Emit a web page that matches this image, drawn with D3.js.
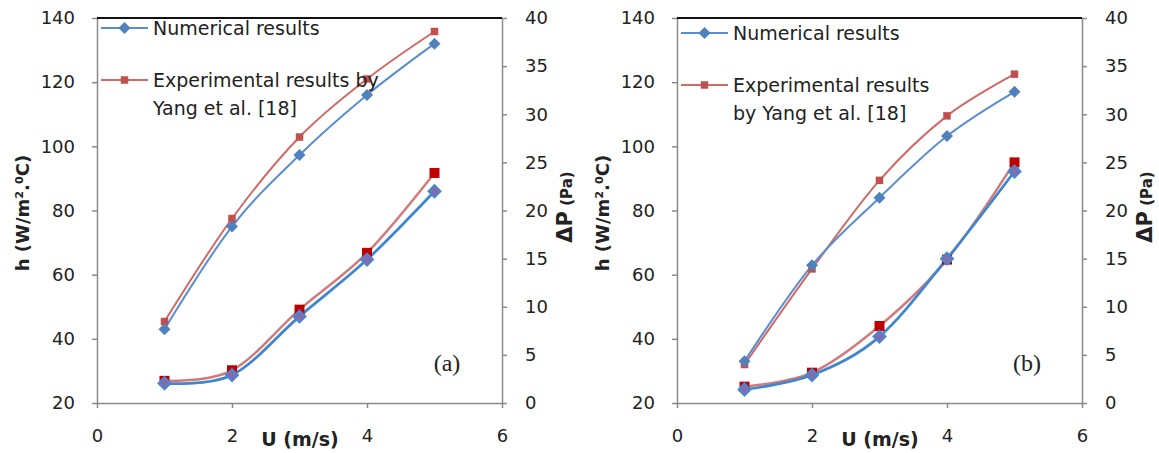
<!DOCTYPE html>
<html><head><meta charset="utf-8">
<script src="https://cdn.jsdelivr.net/npm/d3@7"></script>
<style>body{margin:0;background:#fff} svg{display:block}</style>
</head><body><svg id="c" width="1159" height="453"></svg>
<script>
// ---- data ----
const uValues = [1, 2, 3, 4, 5];
const xTicks = [0, 2, 4, 6];
const hTicks = [20, 40, 60, 80, 100, 120, 140];
const dpTicks = [0, 5, 10, 15, 20, 25, 30, 35, 40];

const hNumA  = [43, 75, 97.3, 116, 132];
const hExpA  = [45.4, 77.5, 102.9, 121, 135.8];
const dpNumA = [2.05, 2.9, 9.0, 14.9, 22.0];
const dpExpA = [2.3, 3.4, 9.7, 15.6, 23.9];

const hNumB  = [33, 62.9, 84, 103.2, 117];
const hExpB  = [32, 61.8, 89.4, 109.5, 122.5];
const dpNumB = [1.4, 2.9, 6.9, 15.0, 24.05];
const dpExpB = [1.7, 3.15, 8.0, 14.9, 25.0];

const panelLabels = ["(a)", "(b)"];
const legendNum = ["Numerical results"];
const legendExpA = ["Experimental results by", "Yang et al. [18]"];
const legendExpB = ["Experimental results", "by Yang et al. [18]"];
const xTitle = "U (m/s)";
const yTitle = "h (W/m\u00B2.\u2070C)";

// ---- drawing ----
const svg = d3.select("#c");
svg.append("rect").attr("width", 1159).attr("height", 453).attr("fill", "#fff");

const panels = [
  {off: 0, hNum: hNumA, hExp: hExpA, dpNum: dpNumA, dpExp: dpExpA, label: panelLabels[0], exp: legendExpA, legY: 28},
  {off: 580, hNum: hNumB, hExp: hExpB, dpNum: dpNumB, dpExp: dpExpB, label: panelLabels[1], exp: legendExpB, legY: 33}
];

const F = "DejaVu Sans, sans-serif";
const axisCol = "#8a8a8a";
const txtCol = "#222";
const blue = "#4F81BD", red = "#C0504D";

function diamond(r) { return `M0,${-r}L${r},0L0,${r}L${-r},0Z`; }
function square(s) { return `M${-s/2},${-s/2}h${s}v${s}h${-s}Z`; }

panels.forEach(p => {
  const g = svg.append("g").attr("transform", `translate(${p.off},0)`);
  const x = d3.scaleLinear().domain([0, 6]).range([97, 502]);
  const yH = d3.scaleLinear().domain([20, 140]).range([403, 18]);
  const yP = d3.scaleLinear().domain([0, 40]).range([403, 18]);

  const styleAxis = sel => {
    sel.selectAll("path.domain").attr("stroke", axisCol).attr("stroke-width", 1.5);
    sel.selectAll(".tick line").attr("stroke", axisCol).attr("stroke-width", 1.5);
    sel.selectAll(".tick text").attr("fill", txtCol).style("font-family", F).style("font-size", "18px");
  };

  g.append("g").attr("transform", "translate(0,403)")
    .call(d3.axisBottom(x).tickValues(xTicks).tickSize(5).tickSizeOuter(0).tickPadding(21).tickFormat(d3.format("d")))
    .call(styleAxis);
  g.append("g").attr("transform", "translate(97,0)")
    .call(d3.axisLeft(yH).tickValues(hTicks).tickSize(5).tickSizeOuter(0).tickPadding(17).tickFormat(d3.format("d")))
    .call(styleAxis);
  g.append("g").attr("transform", "translate(502,0)")
    .call(d3.axisRight(yP).tickValues(dpTicks).tickSize(5).tickSizeOuter(0).tickPadding(18).tickFormat(d3.format("d")))
    .call(styleAxis);

  // top border
  g.append("line").attr("x1", 97).attr("x2", 502).attr("y1", 18).attr("y2", 18)
    .attr("stroke", "#111").attr("stroke-width", 2);

  const curve = d3.curveCardinal.tension(0);
  const line = (ys, yv) => d3.line().curve(curve).x((d, i) => x(uValues[i])).y(d => ys(d))(yv);

  // h experimental
  g.append("path").attr("d", line(yH, p.hExp)).attr("fill", "none").attr("stroke", "#D06A67").attr("stroke-width", 2);
  // h numerical
  g.append("path").attr("d", line(yH, p.hNum)).attr("fill", "none").attr("stroke", "#5A8DD0").attr("stroke-width", 2);
  // dp experimental
  g.append("path").attr("d", line(yP, p.dpExp)).attr("fill", "none").attr("stroke", "#D07B7B").attr("stroke-width", 2.5);
  // dp numerical
  g.append("path").attr("d", line(yP, p.dpNum)).attr("fill", "none").attr("stroke", "#3F86CE").attr("stroke-width", 2.75);

  // markers
  p.hExp.forEach((v, i) => g.append("path").attr("d", square(7.5))
    .attr("transform", `translate(${x(uValues[i])},${yH(v)})`).attr("fill", red));
  p.hNum.forEach((v, i) => g.append("path").attr("d", diamond(6))
    .attr("transform", `translate(${x(uValues[i])},${yH(v)})`).attr("fill", blue));
  p.dpExp.forEach((v, i) => g.append("path").attr("d", square(10))
    .attr("transform", `translate(${x(uValues[i])},${yP(v)})`).attr("fill", "#C00000"));
  p.dpNum.forEach((v, i) => g.append("path").attr("d", diamond(6))
    .attr("transform", `translate(${x(uValues[i])},${yP(v)})`).attr("fill", "#7F6DAF")
    .attr("stroke", "#4A86CF").attr("stroke-width", 2));

  // legend
  const ly1 = p.legY, ly2 = p.legY + 52;
  g.append("line").attr("x1", 101).attr("x2", 148).attr("y1", ly1).attr("y2", ly1).attr("stroke", "#5A8DD0").attr("stroke-width", 2);
  g.append("path").attr("d", diamond(6)).attr("transform", `translate(124.5,${ly1})`).attr("fill", blue);
  g.append("text").attr("x", 153).attr("y", ly1).attr("dy", "0.35em").text(legendNum[0])
    .attr("fill", txtCol).style("font-family", F).style("font-size", "19px");
  g.append("line").attr("x1", 101).attr("x2", 148).attr("y1", ly2).attr("y2", ly2).attr("stroke", "#D06A67").attr("stroke-width", 2);
  g.append("path").attr("d", square(7.5)).attr("transform", `translate(124.5,${ly2})`).attr("fill", red);
  p.exp.forEach((t, i) => g.append("text").attr("x", 153).attr("y", ly2 + i * 28).attr("dy", "0.35em").text(t)
    .attr("fill", txtCol).style("font-family", F).style("font-size", "19px"));

  // panel label
  g.append("text").attr("x", 447).attr("y", 363).attr("dy", "0.35em").attr("text-anchor", "middle")
    .text(p.label).attr("fill", txtCol).style("font-family", "Liberation Serif, serif").style("font-size", "24px");

  // axis titles
  g.append("text").attr("x", 300).attr("y", 446).attr("text-anchor", "middle").text(xTitle)
    .attr("fill", txtCol).style("font-family", F).style("font-size", "19px").style("font-weight", "bold");
  g.append("text").attr("transform", "translate(29,213) rotate(-90)").attr("text-anchor", "middle").text(yTitle)
    .attr("fill", txtCol).style("font-family", F).style("font-size", "18px").style("font-weight", "bold");
  const t2 = g.append("text").attr("transform", "translate(572,207) rotate(-90)").attr("text-anchor", "middle")
    .attr("fill", txtCol).style("font-family", F).style("font-weight", "bold");
  t2.append("tspan").text("\u0394P").style("font-size", "21px");
  t2.append("tspan").text(" (Pa)").style("font-size", "15px");
});
</script></body></html>
